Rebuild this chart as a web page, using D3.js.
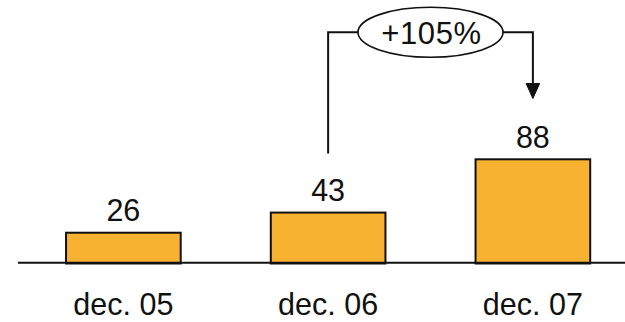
<!DOCTYPE html>
<html>
<head>
<meta charset="utf-8">
<script src="https://cdn.jsdelivr.net/npm/d3@7"></script>
<style>
  html, body { margin: 0; padding: 0; background: #fff; }
  svg { display: block; }
  text { font-family: "Liberation Sans", "Helvetica Neue", Arial, sans-serif; fill: #111; }
</style>
</head>
<body>
<svg id="chart" width="625" height="322"></svg>
<script>
// Period labels and the value recorded for each
const categories = ["dec. 05", "dec. 06", "dec. 07"];
const values = [26, 43, 88];

const width = 625, height = 322;
const svg = d3.select("#chart");
const fontFamily = "Liberation Sans, Helvetica Neue, Arial, sans-serif";

const x = d3.scaleBand()
  .domain(categories)
  .range([21, 635.25])
  .paddingInner(0.44)
  .paddingOuter(0.22);

const y = d3.scaleLinear()
  .domain([0, 100])
  .range([263.5, 145.1]);

const barFill = "#F8B231";
const ink = "#111";

// Bars
svg.append("g")
  .selectAll("rect")
  .data(values)
  .join("rect")
  .attr("x", (d, i) => x(categories[i]))
  .attr("y", d => y(d))
  .attr("width", x.bandwidth())
  .attr("height", d => y(0) - y(d))
  .attr("fill", barFill)
  .attr("stroke", ink)
  .attr("stroke-width", 2);

// Value labels above each bar
svg.append("g")
  .selectAll("text")
  .data(values)
  .join("text")
  .attr("x", (d, i) => x(categories[i]) + x.bandwidth() / 2)
  .attr("y", d => y(d) - 11.5)
  .attr("text-anchor", "middle")
  .attr("font-size", 30.5)
  .text(d => d);

// Baseline
svg.append("line")
  .attr("x1", 18).attr("x2", width)
  .attr("y1", 262.7).attr("y2", 262.7)
  .attr("stroke", ink)
  .attr("stroke-width", 2);

// Category axis (labels only)
const xAxis = svg.append("g")
  .attr("transform", "translate(0,262.7)")
  .call(d3.axisBottom(x).tickSize(0).tickPadding(0));
xAxis.select(".domain").remove();
xAxis.selectAll("text")
  .attr("y", 52.8)
  .attr("dy", 0)
  .attr("font-size", 30.5)
  .attr("font-family", fontFamily)
  .attr("fill", ink);

// Growth annotation between the last two periods
const from = 1, to = 2;
const xFrom = x(categories[from]) + x.bandwidth() / 2;
const xTo = x(categories[to]) + x.bandwidth() / 2;
const growth = Math.round((values[to] - values[from]) / values[from] * 100);
const cx = (xFrom + xTo) / 2, cy = 32.3, rx = 72.5, ry = 25;
const tipY = 98.5, headH = 15, headW = 13.5;

const ann = svg.append("g")
  .attr("fill", "none")
  .attr("stroke", ink)
  .attr("stroke-width", 2);

ann.append("path")
  .attr("d", d3.line()([[xFrom, 153.5], [xFrom, cy], [cx - rx, cy]]));
ann.append("path")
  .attr("d", d3.line()([[cx + rx, cy], [xTo, cy], [xTo, tipY - headH + 1]]));
ann.append("path")
  .attr("d", d3.line()([[xTo - headW / 2, tipY - headH], [xTo + headW / 2, tipY - headH], [xTo, tipY]]) + "Z")
  .attr("fill", ink)
  .attr("stroke-width", 1);

ann.append("ellipse")
  .attr("cx", cx).attr("cy", cy)
  .attr("rx", rx).attr("ry", ry)
  .attr("fill", "#fff")
  .attr("stroke-width", 1.6);

svg.append("text")
  .attr("x", cx + 1)
  .attr("y", 43.5)
  .attr("text-anchor", "middle")
  .attr("font-size", 31)
  .attr("letter-spacing", 0.6)
  .text("+" + growth + "%");
</script>
</body>
</html>
